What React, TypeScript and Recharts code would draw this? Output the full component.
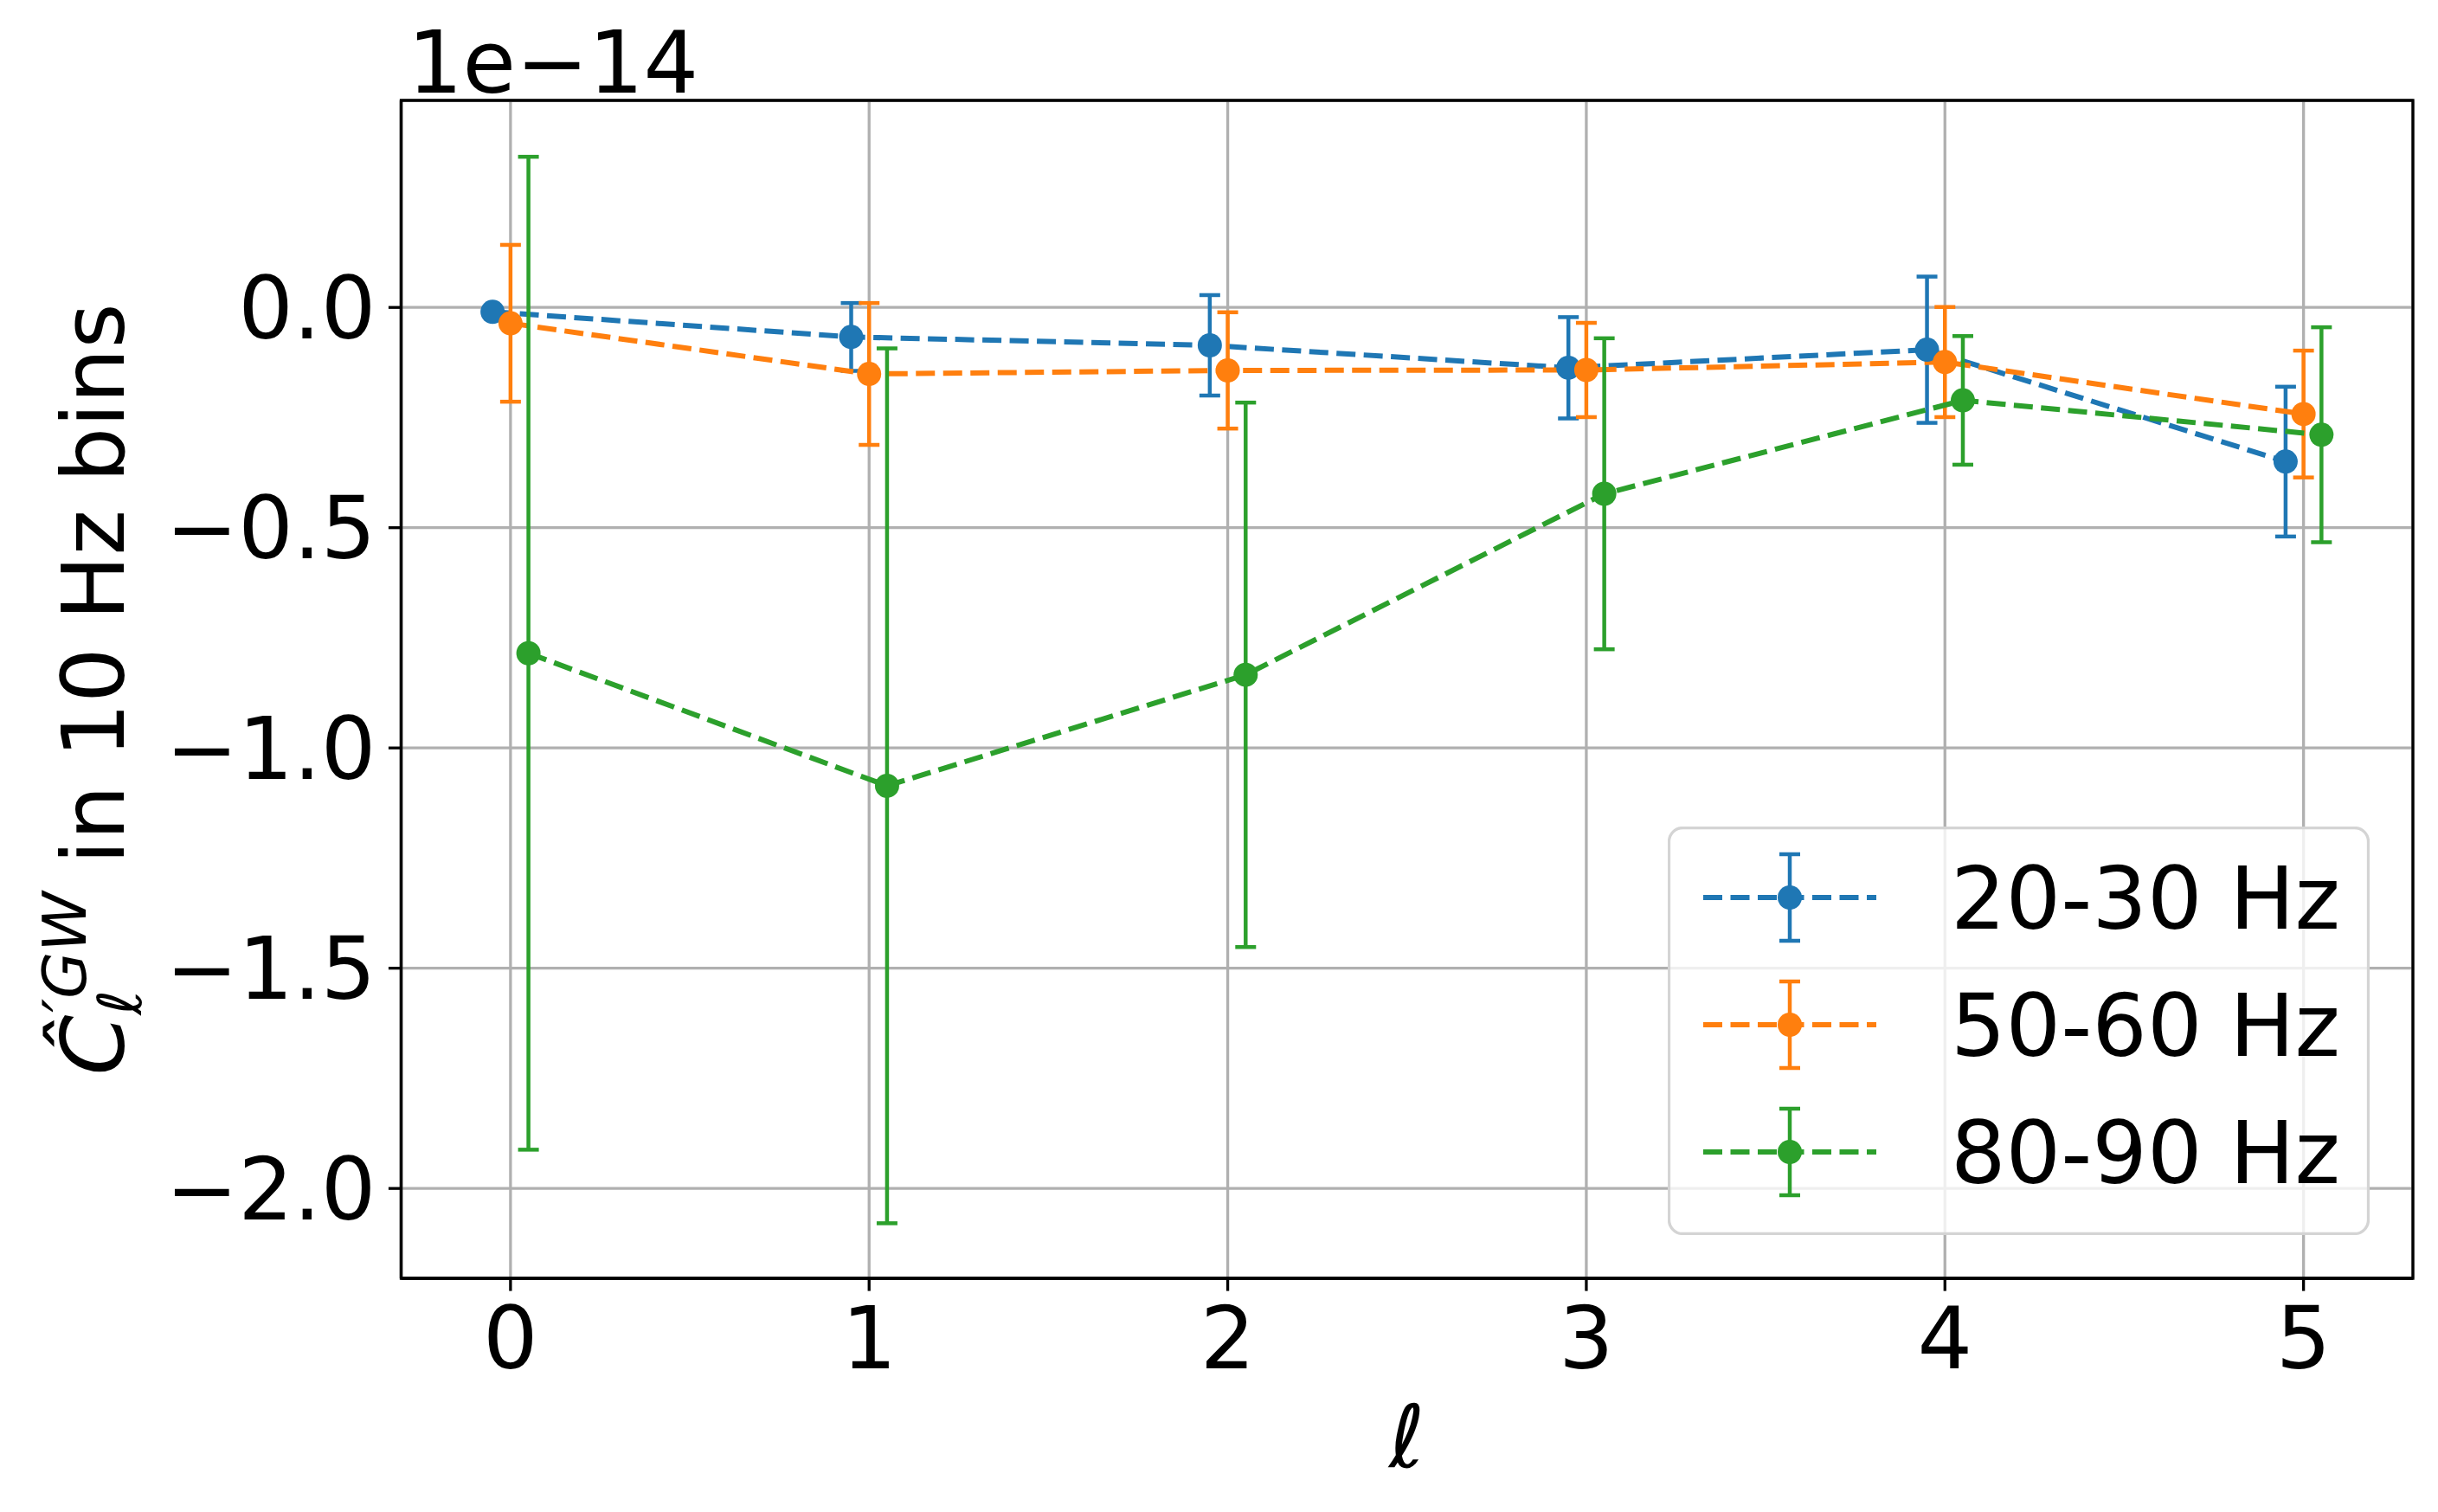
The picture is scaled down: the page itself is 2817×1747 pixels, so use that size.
import React from "react";
import {
  ComposedChart,
  Line,
  XAxis,
  YAxis,
  CartesianGrid,
  ErrorBar,
  Label,
  ReferenceArea,
} from "recharts";

// values in units of 1e-14
const ells = [0, 1, 2, 3, 4, 5];

const low = [-0.01, -0.067, -0.086, -0.137, -0.096, -0.35];
const lowErr = [0, 0.077, 0.114, 0.115, 0.166, 0.17];

const mid = [-0.036, -0.151, -0.143, -0.142, -0.124, -0.242];
const midErr = [0.178, 0.161, 0.132, 0.107, 0.125, 0.144];

const high = [-0.785, -1.086, -0.834, -0.423, -0.211, -0.289];
const highErr = [1.127, 0.993, 0.618, 0.353, 0.146, 0.244];

const xTicks = [0, 1, 2, 3, 4, 5];
const yTicks = [-2, -1.5, -1, -0.5, 0];
const xDomain = [-0.305, 5.305];
const yDomain = [-2.204, 0.47];

const series = [
  { name: "20-30 Hz", color: "#1f77b4", shift: -0.05, values: low, errs: lowErr },
  { name: "50-60 Hz", color: "#ff7f0e", shift: 0, values: mid, errs: midErr },
  { name: "80-90 Hz", color: "#2ca02c", shift: 0.05, values: high, errs: highErr },
];

const FONT = "DejaVu Sans";
const LINE_W = 6;
const ERR_W = 4.5;
const DOT_R = 14;
const DASH = "22 9.5";

function fmtY(v: number) {
  return (v < 0 ? "\u2212" : "") + Math.abs(v).toFixed(1);
}

function YLabel(props: any) {
  const vb = props.viewBox || {};
  const bx = 143;
  const cy = vb.y + vb.height / 2;
  return (
    <g fontFamily={FONT} fill="#000">
      <text x={471} y={vb.y - 9} fontSize={100}>
        1e{"\u2212"}14
      </text>
      <text
        x={bx}
        y={cy}
        fontSize={100}
        textAnchor="middle"
        transform={`rotate(-90, ${bx}, ${cy})`}
      >
        <tspan fontStyle="italic">{"\u0108"}</tspan>
        <tspan fontStyle="italic" fontSize={70} dy={20}>
          {"\u2113"}
        </tspan>
        <tspan fontStyle="italic" fontSize={70} dx={-26} dy={-64}>
          {"\u2032GW"}
        </tspan>
        <tspan dy={44}> in 10 Hz bins</tspan>
      </text>
    </g>
  );
}

function XLabel(props: any) {
  const vb = props.viewBox || {};
  return (
    <text
      x={vb.x + vb.width / 2}
      y={vb.y + 218}
      fontSize={100}
      fontStyle="italic"
      fontFamily={FONT}
      textAnchor="middle"
      fill="#000"
    >
      {"\u2113"}
    </text>
  );
}

function LegendBox() {
  return (
    <svg
      width={811}
      height={472}
      style={{ position: "absolute", left: 1927, top: 955 }}
    >
      <rect
        x={1.5}
        y={1.5}
        width={808}
        height={469}
        rx={16}
        fill="#ffffff"
        fillOpacity={0.8}
        stroke="#d4d4d4"
        strokeWidth={3.3}
      />
      {series.map((s, i) => {
        const cy = 82 + i * 147;
        return (
          <g key={s.name}>
            <line x1={41} x2={241} y1={cy} y2={cy} stroke={s.color} strokeWidth={LINE_W} strokeDasharray={DASH} />
            <line x1={141} x2={141} y1={cy - 50} y2={cy + 50} stroke={s.color} strokeWidth={ERR_W} />
            <line x1={129} x2={153} y1={cy - 50} y2={cy - 50} stroke={s.color} strokeWidth={ERR_W} />
            <line x1={129} x2={153} y1={cy + 50} y2={cy + 50} stroke={s.color} strokeWidth={ERR_W} />
            <circle cx={141} cy={cy} r={DOT_R} fill={s.color} />
            <text x={327} y={cy + 36} fontSize={100} fontFamily={FONT} fill="#000">
              {s.name}
            </text>
          </g>
        );
      })}
    </svg>
  );
}

export default function App() {
  return (
    <div
      style={{
        position: "absolute",
        left: 0,
        top: 0,
        width: 2817,
        height: 1747,
        background: "#ffffff",
      }}
    >
      <ComposedChart
        width={2817}
        height={1747}
        margin={{ top: 116, right: 29, left: 0, bottom: 0 }}
      >
        <CartesianGrid stroke="#b0b0b0" strokeWidth={3.3} />
        <XAxis
          type="number"
          dataKey="x"
          domain={xDomain}
          ticks={xTicks}
          allowDataOverflow
          height={270}
          tickSize={14.6}
          tickMargin={18}
          tick={{ fill: "#000", fontSize: 100, fontFamily: FONT }}
          tickLine={{ stroke: "#000", strokeWidth: 3.3 }}
          axisLine={{ stroke: "#000", strokeWidth: 3.3 }}
          tickFormatter={(v: number) => String(v)}
        >
          <Label content={<XLabel />} />
        </XAxis>
        <YAxis
          type="number"
          domain={yDomain}
          ticks={yTicks}
          allowDataOverflow
          width={463.5}
          tickSize={14.6}
          tickMargin={14.6}
          tick={{ fill: "#000", fontSize: 100, fontFamily: FONT }}
          tickLine={{ stroke: "#000", strokeWidth: 3.3 }}
          axisLine={{ stroke: "#000", strokeWidth: 3.3 }}
          tickFormatter={fmtY}
        >
          <Label content={<YLabel />} />
        </YAxis>
        <ReferenceArea
          x1={xDomain[0]}
          x2={xDomain[1]}
          y1={yDomain[0]}
          y2={yDomain[1]}
          fill="none"
          fillOpacity={0}
          stroke="#000"
          strokeWidth={3.3}
          ifOverflow="visible"
        />
        {series.map((s) => (
          <Line
            key={s.name}
            name={s.name}
            data={ells.map((l, i) => ({ x: l + s.shift, y: s.values[i], err: s.errs[i] }))}
            dataKey="y"
            type="linear"
            stroke={s.color}
            strokeWidth={LINE_W}
            strokeDasharray={DASH}
            dot={{ r: DOT_R, fill: s.color, stroke: s.color, strokeWidth: 0, strokeDasharray: "0" }}
            activeDot={false}
            isAnimationActive={false}
          >
            <ErrorBar
              dataKey="err"
              direction="y"
              width={12}
              stroke={s.color}
              strokeWidth={ERR_W}
              isAnimationActive={false}
            />
          </Line>
        ))}
      </ComposedChart>
      <LegendBox />
    </div>
  );
}
